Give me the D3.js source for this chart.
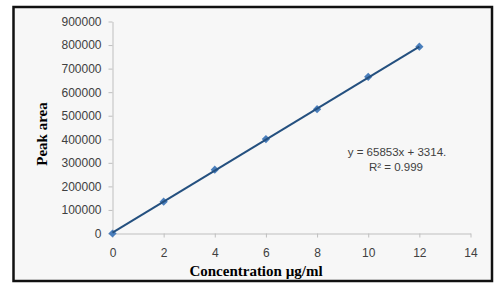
<!DOCTYPE html>
<html>
<head>
<meta charset="utf-8">
<script src="https://cdn.jsdelivr.net/npm/d3@7"></script>
<style>
  html, body { margin: 0; padding: 0; background: #fff; }
  svg { display: block; }
</style>
</head>
<body>
<div id="chart"></div>
<script>
// datos
const concentration = [0, 2, 4, 6, 8, 10, 12]
const peakArea = [0, 135000, 271000, 401000, 528000, 665000, 793000]
const xTicks = [0, 2, 4, 6, 8, 10, 12, 14]
const yTicks = [0, 100000, 200000, 300000, 400000, 500000, 600000, 700000, 800000, 900000]
const slope = 65853
const intercept = 3314
const equationLabel = "y = 65853x + 3314."
const r2Label = "R² = 0.999"

const width = 500, height = 290

const svg = d3.select("#chart")
    .append("svg")
    .attr("width", width)
    .attr("height", height)
    .attr("viewBox", [0, 0, width, height])

// marco exterior
svg.append("rect")
    .attr("x", 13.5)
    .attr("y", 7)
    .attr("width", 478.5)
    .attr("height", 274)
    .attr("fill", "#f7f7f7")
    .attr("stroke", "#111")
    .attr("stroke-width", 2.5)

const x = d3.scaleLinear().domain([0, 14]).range([112.5, 470.5])
const y = d3.scaleLinear().domain([0, 900000]).range([233.5, 21.5])

const axisColor = "#bfbfbf"
const textColor = "#404040"

// Ejes
svg.append("g")
    .attr("transform", `translate(0,${y(0)})`)
    .call(d3.axisBottom(x).tickValues(xTicks).tickSize(4).tickPadding(11).tickSizeOuter(0))
    .call(g => g.select(".domain").attr("stroke", axisColor))
    .call(g => g.selectAll(".tick line").attr("stroke", axisColor))
    .call(g => g.selectAll(".tick text")
        .attr("fill", textColor)
        .style("font-family", "'Liberation Sans', Arial, sans-serif")
        .style("font-size", "12px"))

svg.append("g")
    .attr("transform", `translate(${x(0)},0)`)
    .call(d3.axisLeft(y).tickValues(yTicks).tickFormat(d3.format("d")).tickSize(4).tickPadding(7).tickSizeOuter(0))
    .call(g => g.select(".domain").attr("stroke", axisColor))
    .call(g => g.selectAll(".tick line").attr("stroke", axisColor))
    .call(g => g.selectAll(".tick text")
        .attr("fill", textColor)
        .style("font-family", "'Liberation Sans', Arial, sans-serif")
        .style("font-size", "12px"))

// Títulos de ejes
svg.append("text")
    .attr("x", 256)
    .attr("y", 276)
    .attr("text-anchor", "middle")
    .attr("fill", "#000")
    .style("font-family", "'Liberation Serif', 'Times New Roman', serif")
    .style("font-weight", "bold")
    .style("font-size", "15px")
    .text("Concentration µg/ml")

svg.append("text")
    .attr("transform", "translate(47,134) rotate(-90)")
    .attr("text-anchor", "middle")
    .attr("fill", "#000")
    .style("font-family", "'Liberation Serif', 'Times New Roman', serif")
    .style("font-weight", "bold")
    .style("font-size", "15px")
    .text("Peak area")

// Puntos
const data = concentration.map((c, i) => ({ c, a: peakArea[i] }))

svg.append("g")
    .selectAll("path")
    .data(data)
    .join("path")
    .attr("d", d3.symbol(d3.symbolSquare, 34))
    .attr("transform", d => `translate(${x(d.c)},${y(d.a)}) rotate(45)`)
    .attr("fill", "#4a7ebb")

// Línea de tendencia
const xExt = d3.extent(concentration)
svg.append("line")
    .attr("x1", x(xExt[0]))
    .attr("y1", y(slope * xExt[0] + intercept))
    .attr("x2", x(xExt[1]))
    .attr("y2", y(slope * xExt[1] + intercept))
    .attr("stroke", "#24507f")
    .attr("stroke-width", 2)

// Ecuación
const eq = svg.append("g")
    .attr("fill", textColor)
    .style("font-family", "'Liberation Sans', Arial, sans-serif")
    .style("font-size", "11.5px")
    .attr("text-anchor", "middle")

eq.append("text").attr("x", 397).attr("y", 156).text(equationLabel)
eq.append("text").attr("x", 396).attr("y", 171).text(r2Label)
</script>
</body>
</html>
